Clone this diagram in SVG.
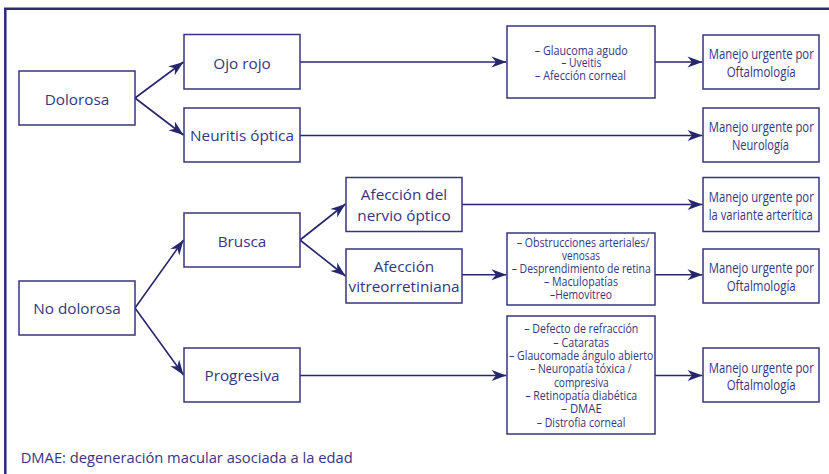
<svg xmlns="http://www.w3.org/2000/svg" width="829" height="474" viewBox="0 0 829 474">
<defs>
<style>
.box{fill:#fff;stroke:#36367e;stroke-width:1.5}
.lbl{font-family:"Open Sans","Noto Sans",sans-serif;font-size:15.3px;fill:#36367f;text-anchor:middle}
.cnd{font-family:"Open Sans","Noto Sans",sans-serif;font-size:14.5px;fill:#36367f;text-anchor:middle}
.lst{font-family:"Open Sans","Noto Sans",sans-serif;font-size:13px;fill:#36367f;text-anchor:middle}
.con{fill:none;stroke:#26266e;stroke-width:1.6}
</style>
<marker id="ah" markerUnits="userSpaceOnUse" markerWidth="20" markerHeight="14" viewBox="-16 -7 17 14" refX="0" refY="0" orient="auto">
<path d="M0,0 L-15,-5.5 L-10.5,0 L-15,5.5 Z" fill="#26266e"/>
</marker>
</defs>
<rect width="829" height="474" fill="#fff"/>
<path d="M5.3,474 V8.7 H829" fill="none" stroke="#2a2a6c" stroke-width="2.5"/>

<g id="connectors">
<path class="con" marker-end="url(#ah)" d="M135,98 L183.5,62"/>
<path class="con" marker-end="url(#ah)" d="M135,98 L183.5,135"/>
<path class="con" marker-end="url(#ah)" d="M300,62 H506.5"/>
<path class="con" marker-end="url(#ah)" d="M655,62 H702.5"/>
<path class="con" marker-end="url(#ah)" d="M300,135.5 H702.5"/>
<path class="con" marker-end="url(#ah)" d="M135,308 L183.5,240"/>
<path class="con" marker-end="url(#ah)" d="M135,308 L183.5,375"/>
<path class="con" marker-end="url(#ah)" d="M300,240 L345.5,204"/>
<path class="con" marker-end="url(#ah)" d="M300,240 L345.5,276"/>
<path class="con" marker-end="url(#ah)" d="M462,204.5 H702.5"/>
<path class="con" marker-end="url(#ah)" d="M462,274.7 H506.5"/>
<path class="con" marker-end="url(#ah)" d="M655,274.7 H702.5"/>
<path class="con" marker-end="url(#ah)" d="M300,375.5 H506.5"/>
<path class="con" marker-end="url(#ah)" d="M655,375.5 H702.5"/>
</g>

<g id="dolorosa"><rect class="box" x="19" y="71" width="116" height="54"/><text class="lbl" x="77" y="105">Dolorosa</text></g>
<g id="ojo-rojo"><rect class="box" x="184" y="34.5" width="116" height="54.5"/><text class="lbl" x="242" y="68.5">Ojo rojo</text></g>
<g id="neuritis"><rect class="box" x="184" y="108" width="116" height="54"/><text class="lbl" x="242" y="141">Neuritis óptica</text></g>
<g id="no-dolorosa"><rect class="box" x="19" y="281" width="116" height="54"/><text class="lbl" x="77" y="314">No dolorosa</text></g>
<g id="brusca"><rect class="box" x="184" y="213" width="116" height="54"/><text class="lbl" x="242" y="247">Brusca</text></g>
<g id="progresiva"><rect class="box" x="184" y="348" width="116" height="54"/><text class="lbl" x="242" y="381">Progresiva</text></g>
<g id="afeccion-nervio"><rect class="box" x="346" y="177.5" width="116" height="54"/><text class="lbl" x="404" y="199.5">Afección del</text><text class="lbl" x="404" y="220.5">nervio óptico</text></g>
<g id="afeccion-vitreo"><rect class="box" x="346" y="249" width="116" height="54"/><text class="lbl" x="404" y="271.5">Afección</text><text class="lbl" x="404" y="292.3">vitreorretiniana</text></g>

<g id="lista-ojo-rojo"><rect class="box" x="507" y="26" width="148" height="72"/>
<text class="lst" x="581.3" y="54.8" textLength="93" lengthAdjust="spacingAndGlyphs">– Glaucoma agudo</text>
<text class="lst" x="581.3" y="67.3" textLength="40" lengthAdjust="spacingAndGlyphs">– Uveitis</text>
<text class="lst" x="580.5" y="80.3" textLength="91" lengthAdjust="spacingAndGlyphs">– Afección corneal</text>
</g>
<g id="lista-vitreo"><rect class="box" x="507" y="233" width="148" height="72"/>
<text class="lst" x="583" y="246.7" textLength="132.6" lengthAdjust="spacingAndGlyphs">– Obstrucciones arteriales/</text>
<text class="lst" x="581" y="259.9" textLength="38" lengthAdjust="spacingAndGlyphs">venosas</text>
<text class="lst" x="581.2" y="273" textLength="139" lengthAdjust="spacingAndGlyphs">– Desprendimiento de retina</text>
<text class="lst" x="581" y="286.2" textLength="74" lengthAdjust="spacingAndGlyphs">– Maculopatías</text>
<text class="lst" x="581" y="299.3" textLength="62" lengthAdjust="spacingAndGlyphs">–Hemovitreo</text>
</g>
<g id="lista-progresiva"><rect class="box" x="507" y="316" width="148" height="118"/>
<text class="lst" x="581.3" y="333.3" textLength="114" lengthAdjust="spacingAndGlyphs">– Defecto de refracción</text>
<text class="lst" x="581.2" y="346.6" textLength="55.7" lengthAdjust="spacingAndGlyphs">– Cataratas</text>
<text class="lst" x="581.2" y="360" textLength="144.3" lengthAdjust="spacingAndGlyphs">– Glaucomade ángulo abierto</text>
<text class="lst" x="580.8" y="373.3" textLength="101.7" lengthAdjust="spacingAndGlyphs">– Neuropatía tóxica /</text>
<text class="lst" x="581.3" y="386.7" textLength="54.7" lengthAdjust="spacingAndGlyphs">compresiva</text>
<text class="lst" x="581.2" y="400" textLength="111.7" lengthAdjust="spacingAndGlyphs">– Retinopatía diabética</text>
<text class="lst" x="581.5" y="413.4" textLength="40.4" lengthAdjust="spacingAndGlyphs">– DMAE</text>
<text class="lst" x="581" y="426.7" textLength="88.6" lengthAdjust="spacingAndGlyphs">– Distrofia corneal</text>
</g>

<g id="manejo-oftalmologia-1"><rect class="box" x="703" y="35" width="116" height="54"/>
<text class="cnd" x="761.3" y="59.3" textLength="105" lengthAdjust="spacingAndGlyphs">Manejo urgente por</text>
<text class="cnd" x="761.2" y="76.7" textLength="69" lengthAdjust="spacingAndGlyphs">Oftalmología</text></g>
<g id="manejo-neurologia"><rect class="box" x="703" y="108" width="116" height="54"/>
<text class="cnd" x="761.3" y="132.3" textLength="105" lengthAdjust="spacingAndGlyphs">Manejo urgente por</text>
<text class="cnd" x="760.5" y="149.7" textLength="57" lengthAdjust="spacingAndGlyphs">Neurología</text></g>
<g id="manejo-variante"><rect class="box" x="703" y="177.5" width="116" height="54"/>
<text class="cnd" x="761.3" y="202" textLength="105" lengthAdjust="spacingAndGlyphs">Manejo urgente por</text>
<text class="cnd" x="760.8" y="219.6" textLength="104" lengthAdjust="spacingAndGlyphs">la variante arterítica</text></g>
<g id="manejo-oftalmologia-2"><rect class="box" x="703" y="249" width="116" height="54"/>
<text class="cnd" x="761.3" y="273.3" textLength="105" lengthAdjust="spacingAndGlyphs">Manejo urgente por</text>
<text class="cnd" x="761.2" y="290.7" textLength="69" lengthAdjust="spacingAndGlyphs">Oftalmología</text></g>
<g id="manejo-oftalmologia-3"><rect class="box" x="703" y="348" width="116" height="54"/>
<text class="cnd" x="761.3" y="372.7" textLength="105" lengthAdjust="spacingAndGlyphs">Manejo urgente por</text>
<text class="cnd" x="761.2" y="390" textLength="69" lengthAdjust="spacingAndGlyphs">Oftalmología</text></g>

<text x="20.7" y="462.5" font-family="'Open Sans','Noto Sans',sans-serif" font-size="14.6" fill="#36367f" textLength="332" lengthAdjust="spacingAndGlyphs">DMAE: degeneración macular asociada a la edad</text>
</svg>
